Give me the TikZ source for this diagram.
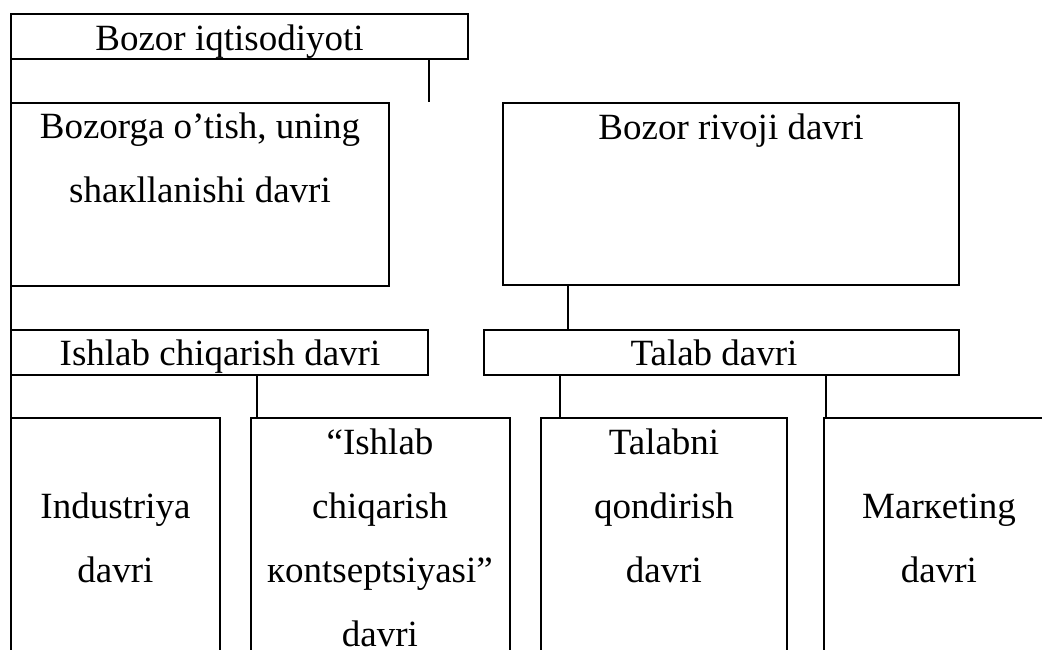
\documentclass[tikz,border=0pt]{standalone}
\usepackage{fontspec}
\setmainfont{Liberation Serif}
\usetikzlibrary{positioning}

\begin{document}
\begin{tikzpicture}[x=1pt, y=-1pt, line width=1.8pt,
      box/.style={draw, inner sep=0pt, outer sep=0pt, anchor=north west},
      txt/.style={font=\fontsize{37}{64}\selectfont, align=center, inner sep=0pt, anchor=base}]
    \clip (0,0) rectangle (1042,649);
    % boxes
    \node[box, minimum width=457pt, minimum height=45pt] (econ) at (11,14) {};
    \node[box, minimum width=378pt, minimum height=183pt] (trans) at (11,103) {};
    \node[box, minimum width=456pt, minimum height=182pt] (devel) at (503,103) {};
    \node[box, minimum width=417pt, minimum height=45pt] (prod) at (11,330) {};
    \node[box, minimum width=475pt, minimum height=45pt] (demand) at (484,330) {};
    \node[box, minimum width=209pt, minimum height=300pt] (indus) at (11,418) {};
    \node[box, minimum width=259pt, minimum height=300pt] (prodcon) at (251,418) {};
    \node[box, minimum width=246pt, minimum height=300pt] (satisf) at (541,418) {};
    \node[box, minimum width=230pt, minimum height=300pt] (mkt) at (824,418) {};
    % texts (base = last line)
    \node[txt] (econ-t) at (229.5,50) {Bozor iqtisodiyoti};
    \node[txt] (trans-t) at (200,202) {Bozorga o’tish, uning\\shaкllanishi davri};
    \node[txt] (devel-t) at (731,139) {Bozor rivoji davri};
    \node[txt] (prod-t) at (220,365) {Ishlab chiqarish davri};
    \node[txt] (demand-t) at (714,365) {Talab davri};
    \node[txt] (indus-t) at (115.5,582) {Industriya\\davri};
    \node[txt] (prodcon-t) at (380,646) {“Ishlab\\chiqarish\\кontseptsiyasi”\\davri};
    \node[txt] (satisf-t) at (664,582) {Talabni\\qondirish\\davri};
    \node[txt] (mkt-t) at (939,582) {Marкeting\\davri};
    % connectors
    \coordinate (stub) at (429,102);
    \draw (econ.south west) -- (trans.north west);
    \draw (econ.south -| stub) -- (stub);
    \draw (trans.south west) -- (prod.north west);
    \draw (prod.south west) -- (indus.north west);
    \draw (prod.south -| 257,0) -- (prodcon.north -| 257,0);
    \draw (devel.south -| 568,0) -- (demand.north -| 568,0);
    \draw (demand.south -| 560,0) -- (satisf.north -| 560,0);
    \draw (demand.south -| 826,0) -- (mkt.north -| 826,0);
\end{tikzpicture}
\end{document}
